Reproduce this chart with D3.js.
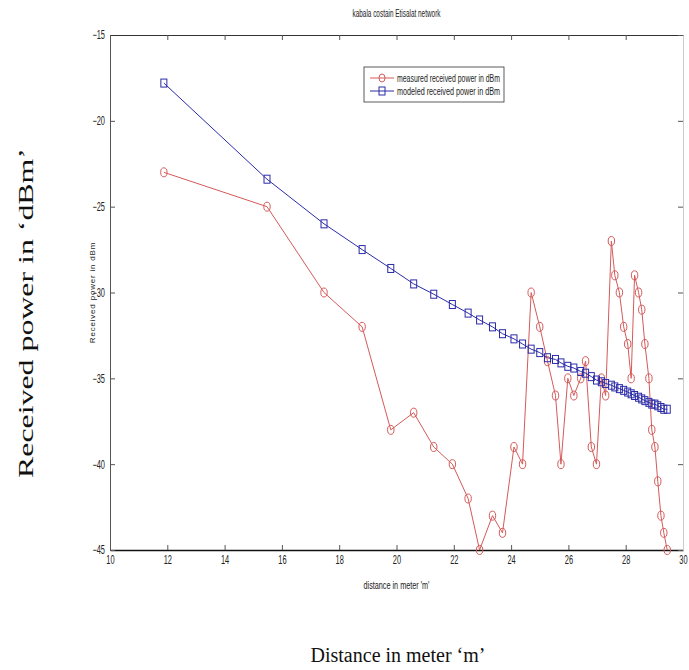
<!DOCTYPE html>
<html>
<head>
<meta charset="utf-8">
<script src="https://cdn.jsdelivr.net/npm/d3@7"></script>
<style>
  body { margin: 0; background: #fff; }
  .tick text { font-family: "Liberation Sans", Arial, sans-serif; font-size: 12px; fill: #222; }
  .small { font-family: "Liberation Sans", Arial, sans-serif; fill: #222; }
  .outer { font-family: "Liberation Serif", "Times New Roman", serif; font-size: 20px; fill: #111; }
</style>
</head>
<body>
<div id="chart"></div>
<script>
// distance in meters (shared by both series)
const distance = [11.88, 15.48, 17.47, 18.8, 19.8, 20.6, 21.3, 21.95, 22.5, 22.9,
  23.35, 23.7, 24.1, 24.4, 24.7, 25.0, 25.27, 25.55, 25.74, 25.98,
  26.19, 26.43, 26.6, 26.8, 26.98, 27.15, 27.3, 27.5, 27.62, 27.78,
  27.93, 28.07, 28.19, 28.31, 28.45, 28.56, 28.67, 28.81, 28.91, 29.02,
  29.12, 29.23, 29.33, 29.45];

const measured = [-23, -25, -30, -32, -38, -37, -39, -40, -42, -45,
  -43, -44, -39, -40, -30, -32, -34, -36, -40, -35,
  -36, -35, -34, -39, -40, -35, -36, -27, -29, -30,
  -32, -33, -35, -29, -30, -31, -33, -35, -38, -39,
  -41, -43, -44, -45];

const modeled = [-17.8, -23.4, -26.0, -27.5, -28.6, -29.5, -30.1, -30.7, -31.2, -31.6,
  -32.0, -32.4, -32.7, -33.0, -33.3, -33.5, -33.8, -33.9, -34.1, -34.3,
  -34.4, -34.6, -34.7, -34.9, -35.1, -35.2, -35.3, -35.4, -35.5, -35.6,
  -35.7, -35.8, -35.9, -36.0, -36.1, -36.2, -36.3, -36.4, -36.5, -36.5,
  -36.6, -36.7, -36.8, -36.8];

const xTicks = [10, 12, 14, 16, 18, 20, 22, 24, 26, 28, 30];
const yTicks = [-15, -20, -25, -30, -35, -40, -45];
const seriesNames = ['measured received power in dBm', 'modeled received power in dBm'];

const width = 689, height = 670;
const margin = {top: 35, right: 6, bottom: 120, left: 110};
const innerW = width - margin.left - margin.right;
const innerH = height - margin.top - margin.bottom;

const redColor = '#d45a5a', blueColor = '#2b2ba8';
const squeeze = 0.62; // narrow look of the original tick font

const svg = d3.select('#chart').append('svg')
    .attr('width', width)
    .attr('height', height);

const chart = svg.append('g')
    .attr('transform', `translate(${margin.left},${margin.top})`);

const x = d3.scaleLinear().domain([10, 30]).range([0, innerW]);
const y = d3.scaleLinear().domain([-45, -15]).range([innerH, 0]);

// axes with inward ticks (matlab style)
chart.append('g')
    .attr('transform', `translate(0,${innerH})`)
    .call(d3.axisBottom(x).tickValues(xTicks).tickSizeInner(-5).tickSizeOuter(0).tickPadding(5))
    .call(g => g.select('.domain').attr('stroke', '#111').attr('stroke-width', 1.5))
    .call(g => g.selectAll('.tick text').attr('transform', `scale(${squeeze},1)`));

chart.append('g')
    .call(d3.axisLeft(y).tickValues(yTicks).tickSizeInner(-5).tickSizeOuter(0).tickPadding(5))
    .call(g => g.select('.domain').attr('stroke', '#555'))
    .call(g => g.selectAll('.tick text')
        .attr('x', -5 / squeeze)
        .attr('transform', `scale(${squeeze},1)`));

chart.append('g')
    .call(d3.axisTop(x).tickValues(xTicks).tickSizeInner(-5).tickSizeOuter(0).tickFormat(''))
    .call(g => g.select('.domain').attr('stroke', '#333'));

chart.append('g')
    .attr('transform', `translate(${innerW},0)`)
    .call(d3.axisRight(y).tickValues(yTicks).tickSizeInner(-5).tickSizeOuter(0).tickFormat(''))
    .call(g => g.select('.domain').attr('stroke', '#ccc'));

chart.selectAll('.tick line').attr('stroke', '#555');

// lines
const measuredData = distance.map((d, i) => ({x: d, y: measured[i]}));
const modeledData = distance.map((d, i) => ({x: d, y: modeled[i]}));

const line = d3.line().x(d => x(d.x)).y(d => y(d.y));

chart.append('path')
    .datum(measuredData)
    .attr('fill', 'none')
    .attr('stroke', redColor)
    .attr('stroke-width', 1)
    .attr('d', line);

chart.append('path')
    .datum(modeledData)
    .attr('fill', 'none')
    .attr('stroke', blueColor)
    .attr('stroke-width', 1)
    .attr('d', line);

chart.selectAll('.red-marker')
    .data(measuredData)
  .join('ellipse')
    .attr('class', 'red-marker')
    .attr('cx', d => x(d.x))
    .attr('cy', d => y(d.y))
    .attr('rx', 3.2)
    .attr('ry', 4.5)
    .attr('fill', 'none')
    .attr('stroke', redColor)
    .attr('stroke-width', 1);

chart.selectAll('.blue-marker')
    .data(modeledData)
  .join('rect')
    .attr('class', 'blue-marker')
    .attr('x', d => x(d.x) - 3)
    .attr('y', d => y(d.y) - 4)
    .attr('width', 6)
    .attr('height', 8)
    .attr('fill', 'none')
    .attr('stroke', blueColor)
    .attr('stroke-width', 1);

// legend
const legend = svg.append('g').attr('transform', 'translate(364,67)');
legend.append('rect')
    .attr('width', 140)
    .attr('height', 35)
    .attr('fill', '#fff')
    .attr('stroke', '#333')
    .attr('stroke-width', 0.8);

seriesNames.forEach((name, i) => {
  const row = legend.append('g').attr('transform', `translate(0,${11 + i * 13})`);
  const c = i === 0 ? redColor : blueColor;
  row.append('line').attr('x1', 6).attr('x2', 30).attr('stroke', c);
  if (i === 0) {
    row.append('ellipse').attr('cx', 18).attr('rx', 3).attr('ry', 4)
        .attr('fill', 'none').attr('stroke', c);
  } else {
    row.append('rect').attr('x', 15).attr('y', -4).attr('width', 6).attr('height', 8)
        .attr('fill', 'none').attr('stroke', c);
  }
  row.append('text')
      .attr('class', 'small')
      .attr('x', 33)
      .attr('dy', '0.35em')
      .attr('font-size', 10)
      .attr('textLength', 103)
      .attr('lengthAdjust', 'spacingAndGlyphs')
      .text(name);
});

// titles
svg.append('text')
    .attr('class', 'small')
    .attr('x', margin.left + innerW / 2)
    .attr('y', 17)
    .attr('text-anchor', 'middle')
    .attr('font-size', 10)
    .attr('textLength', 88)
    .attr('lengthAdjust', 'spacingAndGlyphs')
    .text('kabala costain Etisalat network');

svg.append('text')
    .attr('class', 'small')
    .attr('x', margin.left + innerW / 2)
    .attr('y', 589)
    .attr('text-anchor', 'middle')
    .attr('font-size', 10)
    .attr('textLength', 66)
    .attr('lengthAdjust', 'spacingAndGlyphs')
    .text("distance in meter 'm'");

svg.append('text')
    .attr('class', 'small')
    .attr('transform', `translate(95,${margin.top + innerH / 2}) rotate(-90)`)
    .attr('text-anchor', 'middle')
    .attr('font-family', 'DejaVu Sans, sans-serif')
    .attr('font-size', 8)
    .attr('letter-spacing', 0.8)
    .text('Received power in dBm');

// outer labels
svg.append('text')
    .attr('class', 'outer')
    .attr('transform', 'translate(33,313) rotate(-90)')
    .attr('text-anchor', 'middle')
    .attr('font-size', 24)
    .attr('textLength', 330)
    .attr('lengthAdjust', 'spacingAndGlyphs')
    .text('Received power in \u2018dBm\u2019');

svg.append('text')
    .attr('class', 'outer')
    .attr('x', 398)
    .attr('y', 662)
    .attr('text-anchor', 'middle')
    .text('Distance in meter \u2018m\u2019');
</script>
</body>
</html>
